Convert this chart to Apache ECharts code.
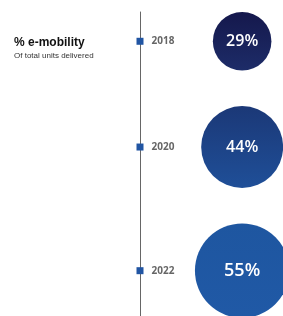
<!DOCTYPE html>
<html>
<head>
<meta charset="utf-8">
<script src="https://cdn.jsdelivr.net/npm/echarts@6/dist/echarts.min.js"></script>
<style>
  html, body { margin: 0; padding: 0; background: #fff; }
  #chart { width: 283px; height: 316px; }
</style>
</head>
<body>
<div id="chart"></div>
<script>
// years on the timeline and share of e-mobility (% of total units delivered)
const years = ['2018', '2020', '2022']
const shares = [29, 44, 55]

const circleColors = [
  ['#15184c', '#1d2c68'],
  ['#1b3877', '#1f4f98'],
  ['#1e56a0', '#2059a6'],
]

// bubble diameter grows with the share
function diameter(v) {
  return 56 * Math.log(v) - 130
}

// stack the bubbles down the timeline with an even gap between them
const gap = 35.5
const centers = []
let acc = 0
shares.forEach(function (v) {
  const d = diameter(v)
  centers.push(acc + d / 2)
  acc += d + gap
})

const chart = echarts.init(document.getElementById('chart'))
chart.setOption({
  animation: false,
  title: {
    text: '% e-mobility',
    subtext: 'Of total units delivered',
    left: 9,
    top: 32,
    itemGap: 3,
    textStyle: {
      fontFamily: 'Liberation Sans',
      fontSize: 12,
      fontWeight: 'bold',
      color: '#111',
    },
    subtextStyle: {
      fontFamily: 'Liberation Sans',
      fontSize: 8,
      color: '#333',
    },
  },
  grid: {
    left: 140,
    top: 12,
    right: 0,
    bottom: 0,
  },
  xAxis: {
    type: 'value',
    min: 0,
    max: 1.4,
    show: false,
  },
  yAxis: {
    type: 'value',
    inverse: true,
    min: 0,
    max: 304,
    axisLine: {
      show: true,
      lineStyle: { color: '#666', width: 1 },
    },
    axisTick: { show: false },
    axisLabel: { show: false },
    splitLine: { show: false },
  },
  series: [
    {
      type: 'scatter',
      symbol: 'circle',
      z: 2,
      itemStyle: { opacity: 1 },
      data: shares.map(function (v, i) {
        return {
          value: [1, centers[i]],
          share: v,
          symbolSize: diameter(v),
          itemStyle: {
            opacity: 1,
            color: new echarts.graphic.LinearGradient(0, 0, 0, 1, [
              { offset: 0, color: circleColors[i][0] },
              { offset: 1, color: circleColors[i][1] },
            ]),
          },
          label: { fontSize: i === 2 ? 18 : 16 },
        }
      }),
      label: {
        show: true,
        position: 'inside',
        formatter: function (p) { return p.data.share + '%' },
        color: '#fff',
        fontFamily: 'Open Sans',
        fontWeight: 600,
      },
    },
    {
      type: 'scatter',
      symbol: 'rect',
      symbolSize: 7,
      z: 3,
      itemStyle: { color: '#2155a3', opacity: 1 },
      data: years.map(function (y, i) {
        return { value: [0, centers[i]], name: y }
      }),
      label: {
        show: true,
        position: 'right',
        distance: 8,
        formatter: '{b}',
        color: '#666',
        fontFamily: 'Open Sans',
        fontSize: 10,
        fontWeight: 'bold',
      },
    },
  ],
})
</script>
</body>
</html>
